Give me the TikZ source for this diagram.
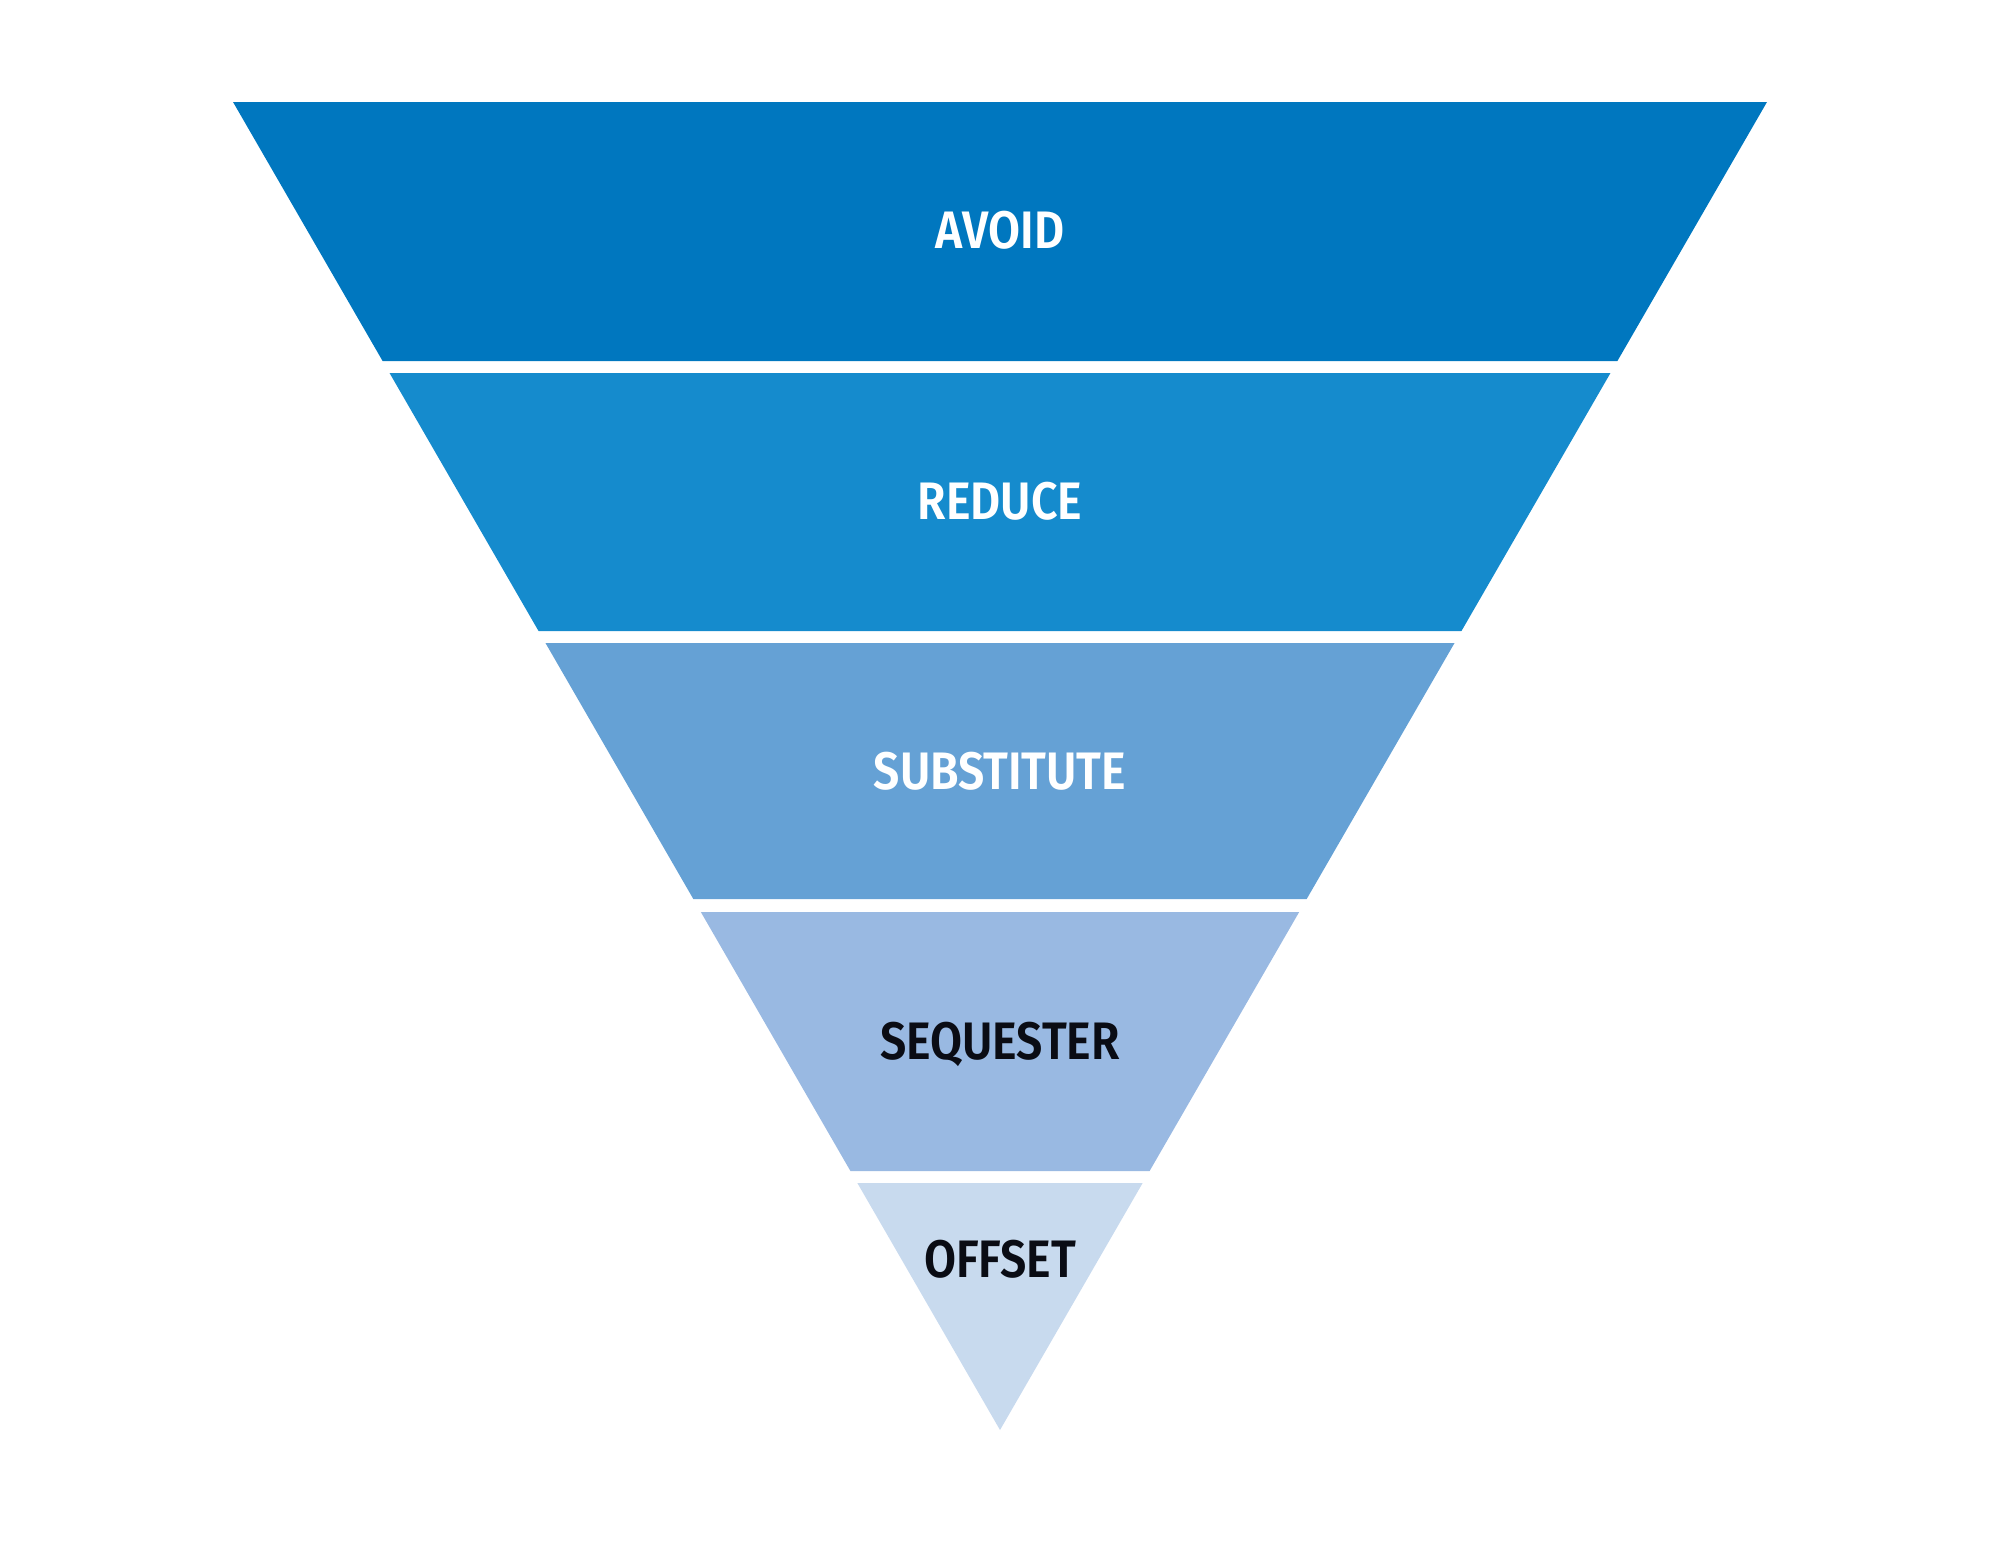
\documentclass[tikz,border=0pt]{standalone}
\usepackage{fontspec}
\setmainfont{Fira Sans}[BoldFont={Fira Sans SemiBold}, FakeStretch=0.88]
\usepackage{xcolor}
\usepackage{tikz}
\usetikzlibrary{calc}

\definecolor{bandA}{RGB}{0,119,191}
\definecolor{bandB}{RGB}{21,139,205}
\definecolor{bandC}{RGB}{101,161,213}
\definecolor{bandD}{RGB}{153,185,226}
\definecolor{bandE}{RGB}{200,218,238}
\definecolor{inkdark}{RGB}{10,12,20}

\begin{document}
\begin{tikzpicture}[
  x=0.01cm, y=-0.01cm,
  every node/.style={font=\bfseries\fontsize{15}{18}\selectfont},
  lbl/.style={text height=0.69em, text depth=0pt, inner sep=0pt},
  lblw/.style={lbl, white},
  lbld/.style={lbl, inkdark},
]
\useasboundingbox (0,0) rectangle (2000,1545);
% slope of the funnel sides
\pgfmathsetmacro{\k}{767/1328}
\foreach \t/\b/\col in {102/361/bandA, 373/631/bandB, 643/899/bandC, 912/1171/bandD} {
  \fill[\col] ({1000-\k*(1430-\t)}, \t) -- ({1000+\k*(1430-\t)}, \t)
    -- ({1000+\k*(1430-\b)}, \b) -- ({1000-\k*(1430-\b)}, \b) -- cycle;
}
\fill[bandE] ({1000-\k*247}, 1183) -- ({1000+\k*247}, 1183) -- (1000, 1430) -- cycle;
\node[lblw] (avoid) at (1000, 236) {AVOID};
\node[lblw] (reduce) at (1000, 507) {REDUCE};
\node[lblw] (subst) at (1000, 777) {SUBSTITUTE};
\node[lbld] (seq) at (1000, 1047) {SEQUESTER};
\node[lbld] (offset) at (1000, 1265) {OFFSET};
\end{tikzpicture}
\end{document}
